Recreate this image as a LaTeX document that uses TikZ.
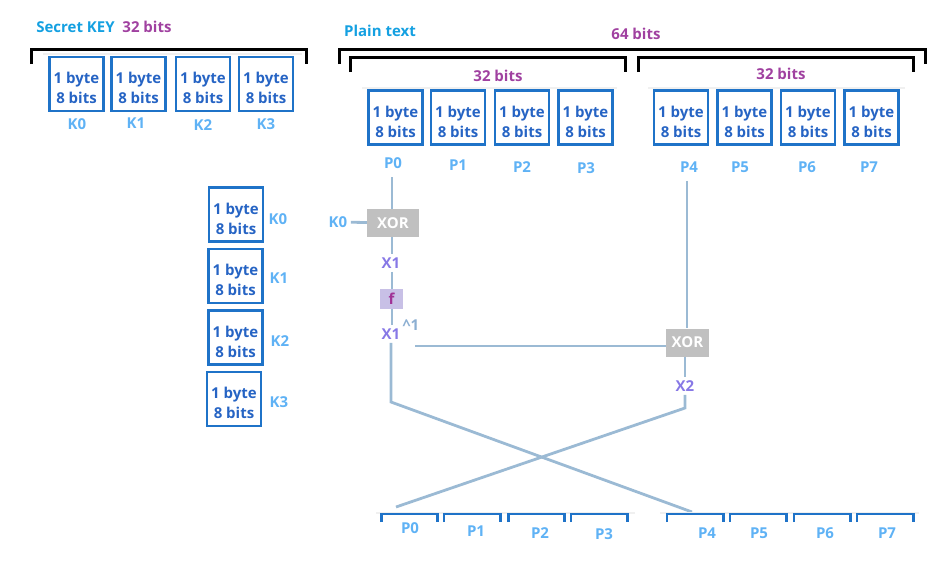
\documentclass[tikz,border=0pt]{standalone}
\usepackage{fontspec}
\setmainfont{Open Sans}
\usetikzlibrary{calc}
\definecolor{boxblue}{RGB}{31,115,200}
\definecolor{textblue}{RGB}{38,100,196}
\definecolor{labelblue}{RGB}{95,178,245}
\definecolor{titleblue}{RGB}{20,160,225}
\definecolor{bitspurple}{RGB}{160,65,160}
\definecolor{xviolet}{RGB}{135,120,230}
\definecolor{wireblue}{RGB}{155,186,212}
\definecolor{xorgray}{RGB}{192,192,192}
\definecolor{flavender}{RGB}{200,192,230}
\definecolor{fpurple}{RGB}{160,50,150}
\definecolor{capblue}{RGB}{140,175,210}
\newcommand{\onebyte}{\rule{0pt}{19.5pt}1 byte\\8 bits}
\tikzset {
    byte/.style = {draw = boxblue, line width = 2.6pt, minimum width = 54pt,
        minimum height = 54pt, inner sep = 0pt, align = center, text = textblue},
    slot/.style = {minimum width = 56pt, minimum height = 8pt, inner sep = 0pt},
    cut/.style = {draw = boxblue, line width = 2.6pt},
    tag/.style = {text = labelblue},
    title/.style = {text = titleblue},
    bits/.style = {text = bitspurple},
    xtag/.style = {text = xviolet},
    brace/.style = {line width = 3pt, black},
    shelf/.style = {line width = 2pt, gray!12},
    wire/.style = {draw = wireblue, line width = 2.8pt},
    xor/.style = {fill = xorgray, text = white, inner sep = 0pt,
        minimum height = 28pt},
    fbox/.style = {fill = flavender, text = fpurple, inner sep = 0pt,
        minimum width = 23pt, minimum height = 20pt}
}
\begin{document}
\begin{tikzpicture}[x = 1pt, y = -1pt, font = \fontsize{15pt}{20pt}\selectfont\bfseries]
    \useasboundingbox (0, 0) rectangle (945, 560);
    %
    \node (sk) [title] at (75.5, 27) {Secret KEY};
    \node (skbits) [bits] at (147, 27) {32 bits};
    \draw [shelf] (43, 54) -- (302, 54);
    \draw [brace] (31, 64) |- (306.5, 49) -- (306.5, 64);
    \node (k0) [byte] at (76.5, 84) {\onebyte};
    \node (k1) [byte] at (138.5, 84) {\onebyte};
    \node (k2) [byte] at (203, 84) {\onebyte};
    \node (k3) [byte] at (266, 84) {\onebyte};
    \node (nk0) [tag] at (77, 124) {K0};
    \node (nk1) [tag] at (136, 123) {K1};
    \node (nk2) [tag] at (203, 125) {K2};
    \node (nk3) [tag] at (266, 124) {K3};
    %
    \node (pt) [title] at (380, 31) {Plain text};
    \node (pbits) [bits] at (636, 34) {64 bits};
    \draw [brace] (339.5, 64) |- (925, 49) -- (925, 64);
    \draw [brace] (350, 72) |- (625.5, 57) -- (625.5, 72);
    \draw [brace] (638, 72) |- (913, 57) -- (913, 72);
    \node (lbits) [bits] at (498, 76) {32 bits};
    \node (rbits) [bits] at (781, 74) {32 bits};
    \draw [shelf] (362, 88) -- (617, 88);
    \draw [shelf] (648, 88) -- (905, 88);
    \node (p0) [byte] at (395.5, 117.5) {\onebyte};
    \node (p1) [byte] at (458, 117.5) {\onebyte};
    \node (p2) [byte] at (522, 117.5) {\onebyte};
    \node (p3) [byte] at (585.5, 117.5) {\onebyte};
    \node (p4) [byte] at (681, 117.5) {\onebyte};
    \node (p5) [byte] at (744.5, 117.5) {\onebyte};
    \node (p6) [byte] at (808, 117.5) {\onebyte};
    \node (p7) [byte] at (871.5, 117.5) {\onebyte};
    \node (np0) [tag] at (393, 163) {P0};
    \node (np1) [tag] at (458, 165) {P1};
    \node (np2) [tag] at (522, 167) {P2};
    \node (np3) [tag] at (586, 168) {P3};
    \node (np4) [tag] at (689, 167) {P4};
    \node (np5) [tag] at (740, 167) {P5};
    \node (np6) [tag] at (807, 167) {P6};
    \node (np7) [tag] at (869, 167) {P7};
    %
    \node (r0) [byte] at (236, 214.5) {\onebyte};
    \node (r1) [byte] at (235.5, 276) {\onebyte};
    \node (r2) [byte] at (235.5, 337.5) {\onebyte};
    \node (r3) [byte] at (234, 399) {\onebyte};
    \node (nr0) [tag] at (278, 219) {K0};
    \node (nr1) [tag] at (279, 278) {K1};
    \node (nr2) [tag] at (280, 341) {K2};
    \node (nr3) [tag] at (279, 402) {K3};
    %
    \node (kin) [tag] at (338, 222) {K0};
    \node (xor1) [xor, minimum width = 52pt] at (393, 223) {XOR};
    \node (x1) [xtag] at (391, 263) {X1};
    \node (f) [fbox] at (391.5, 299) {f};
    \node (x1b) [xtag] at (391, 334) {X1};
    \node (cap) [text = capblue] at (411, 325) {\textasciicircum1};
    \node (xor2) [xor, minimum width = 43pt] at (687.5, 342.5) {XOR};
    \node (x2) [xtag] at (685, 386) {X2};
    \coordinate (h0) at (415, 346);
    \coordinate (bend1) at (391, 402);
    \coordinate (bend2) at (685, 408);
    \coordinate (d0) at (396, 507);
    \coordinate (d4) at (692, 512);
    \draw [wire, shorten <= 5pt] (np0.south -| 392, 0) -- (xor1.north -| 392, 0);
    \draw [wire] (kin) -- (xor1);
    \draw [wire] (xor1.south -| 392, 0) -- (x1.north -| 392, 0);
    \draw [wire] (x1.south -| 392, 0) -- (f.north -| 392, 0);
    \draw [wire] (f.south -| 392, 0) -- (x1b.north -| 392, 0);
    \draw [wire] (x1b.south -| 391, 0) -- (bend1) -- (d4);
    \draw [wire] (h0) -- (h0 -| xor2.west);
    \draw [wire, shorten <= 5pt] (np4.south -| 687, 0) -- (xor2.north -| 687, 0);
    \draw [wire] (xor2.south -| 685, 0) -- (x2);
    \draw [wire] (x2) -- (bend2) -- (d0);
    %
    \draw [shelf] (376, 513) -- (635, 513);
    \draw [shelf] (660, 513) -- (919, 513);
    \node (q0) [slot] at (409.5, 518) {};
    \node (q1) [slot] at (472, 518) {};
    \node (q2) [slot] at (536.5, 518) {};
    \node (q3) [slot] at (599, 518) {};
    \node (q4) [slot] at (695, 518) {};
    \node (q5) [slot] at (758, 518) {};
    \node (q6) [slot] at (822, 518) {};
    \node (q7) [slot] at (885, 518) {};
    \draw [cut] (q0.south west) |- (q0.north east) -- (q0.south east);
    \draw [cut] (q1.south west) |- (q1.north east) -- (q1.south east);
    \draw [cut] (q2.south west) |- (q2.north east) -- (q2.south east);
    \draw [cut] (q3.south west) |- (q3.north east) -- (q3.south east);
    \draw [cut] (q4.south west) |- (q4.north east) -- (q4.south east);
    \draw [cut] (q5.south west) |- (q5.north east) -- (q5.south east);
    \draw [cut] (q6.south west) |- (q6.north east) -- (q6.south east);
    \draw [cut] (q7.south west) |- (q7.north east) -- (q7.south east);
    \node (nq0) [tag] at (410, 528) {P0};
    \node (nq1) [tag] at (476, 531) {P1};
    \node (nq2) [tag] at (540, 533) {P2};
    \node (nq3) [tag] at (604, 534) {P3};
    \node (nq4) [tag] at (707, 533) {P4};
    \node (nq5) [tag] at (759, 533) {P5};
    \node (nq6) [tag] at (825, 533) {P6};
    \node (nq7) [tag] at (887, 533) {P7};
\end{tikzpicture}
\end{document}
